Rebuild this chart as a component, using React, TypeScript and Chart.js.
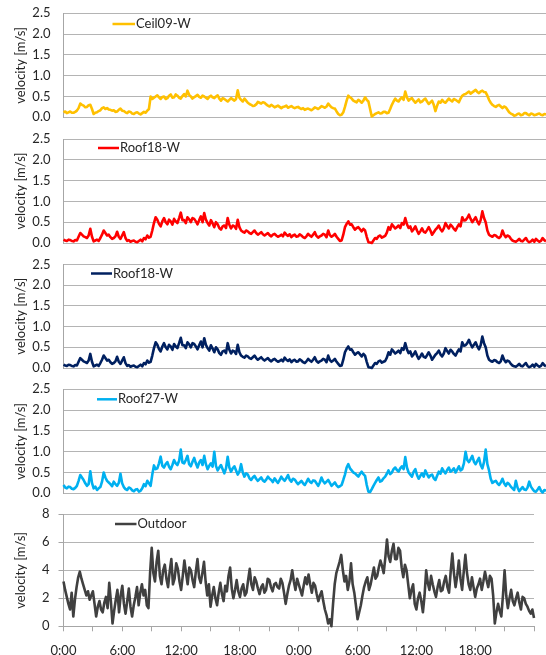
import React, { useEffect, useRef } from "react";
import { Chart, registerables } from "chart.js";

Chart.register(...registerables);

const STEP_HOURS = 1 / 6;

const ceil09W = [
  0.12, 0.14, 0.10, 0.12, 0.14, 0.11, 0.11, 0.13, 0.16, 0.22, 0.33, 0.30,
  0.28, 0.24, 0.25, 0.29, 0.30, 0.20, 0.08, 0.11, 0.12, 0.15, 0.17, 0.22,
  0.24, 0.20, 0.22, 0.19, 0.18, 0.16, 0.17, 0.13, 0.14, 0.18, 0.21, 0.16,
  0.15, 0.12, 0.10, 0.14, 0.13, 0.09, 0.08, 0.11, 0.12, 0.09, 0.07, 0.10,
  0.13, 0.11, 0.16, 0.20, 0.50, 0.44, 0.47, 0.50, 0.53, 0.48, 0.44, 0.49,
  0.50, 0.44, 0.46, 0.52, 0.55, 0.47, 0.48, 0.55, 0.52, 0.47, 0.45, 0.51,
  0.56, 0.50, 0.64, 0.54, 0.50, 0.45, 0.48, 0.51, 0.54, 0.49, 0.47, 0.52,
  0.50, 0.47, 0.44, 0.49, 0.52, 0.48, 0.46, 0.50, 0.53, 0.45, 0.40, 0.46,
  0.44, 0.41, 0.38, 0.42, 0.46, 0.43, 0.40, 0.44, 0.65, 0.47, 0.42, 0.38,
  0.45, 0.40, 0.35, 0.32, 0.30, 0.27, 0.28, 0.31, 0.37, 0.35, 0.33, 0.36,
  0.35, 0.31, 0.28, 0.26, 0.30, 0.27, 0.24, 0.26, 0.28, 0.25, 0.22, 0.25,
  0.26, 0.28, 0.23, 0.25, 0.27, 0.24, 0.22, 0.24, 0.25, 0.22, 0.20, 0.22,
  0.18, 0.20, 0.21, 0.19, 0.17, 0.20, 0.24, 0.22, 0.20, 0.23, 0.27, 0.25,
  0.23, 0.26, 0.33, 0.28, 0.24, 0.22, 0.21, 0.14, 0.08, 0.05, 0.06, 0.12,
  0.25, 0.40, 0.52, 0.48, 0.45, 0.40, 0.38, 0.36, 0.42, 0.39, 0.35, 0.40,
  0.48, 0.42, 0.38, 0.20, 0.02, 0.05, 0.08, 0.10, 0.12, 0.09, 0.10, 0.13,
  0.13, 0.10, 0.11, 0.20, 0.30, 0.38, 0.45, 0.40, 0.38, 0.44, 0.48, 0.42,
  0.62, 0.48, 0.40, 0.44, 0.46, 0.40, 0.35, 0.39, 0.43, 0.36, 0.38, 0.42,
  0.45, 0.38, 0.32, 0.36, 0.40, 0.30, 0.15, 0.28, 0.38, 0.35, 0.42, 0.37,
  0.35, 0.40, 0.45, 0.41, 0.38, 0.44, 0.42, 0.39, 0.36, 0.45, 0.52, 0.55,
  0.56, 0.59, 0.62, 0.57, 0.60, 0.63, 0.66, 0.61, 0.58, 0.62, 0.64, 0.61,
  0.60, 0.52, 0.42, 0.35, 0.30, 0.27, 0.25, 0.28, 0.30, 0.26, 0.22, 0.26,
  0.24, 0.18, 0.12, 0.09, 0.07, 0.04, 0.05, 0.08, 0.09, 0.05, 0.06, 0.10,
  0.10, 0.07, 0.05, 0.09, 0.08, 0.05, 0.06, 0.08, 0.09, 0.06, 0.05, 0.08,
  0.07,
];

const roof18W = [
  0.08, 0.06, 0.05, 0.08, 0.07, 0.05, 0.04, 0.07, 0.06, 0.15, 0.24, 0.20,
  0.16, 0.14, 0.12, 0.18, 0.34, 0.15, 0.04, 0.06, 0.08, 0.05, 0.12, 0.20,
  0.30, 0.24, 0.18, 0.20, 0.14, 0.10, 0.12, 0.16, 0.27, 0.15, 0.10, 0.18,
  0.26, 0.12, 0.05, 0.07, 0.03, 0.05, 0.06, 0.03, 0.02, 0.05, 0.08, 0.04,
  0.12, 0.09, 0.18, 0.13, 0.15, 0.30, 0.48, 0.62, 0.56, 0.46, 0.40, 0.52,
  0.60, 0.50, 0.45, 0.56, 0.52, 0.44, 0.58, 0.52, 0.48, 0.60, 0.73, 0.55,
  0.55, 0.48, 0.62, 0.57, 0.50, 0.60, 0.58, 0.52, 0.45, 0.55, 0.64, 0.50,
  0.72, 0.56, 0.48, 0.42, 0.55, 0.47, 0.38, 0.50, 0.45, 0.36, 0.32, 0.40,
  0.42, 0.36, 0.60, 0.44, 0.35, 0.42, 0.40, 0.34, 0.56, 0.38, 0.30, 0.27,
  0.25, 0.30, 0.28, 0.24, 0.22, 0.26, 0.30, 0.24, 0.20, 0.23, 0.26, 0.21,
  0.18, 0.21, 0.24, 0.19, 0.16, 0.20, 0.22, 0.18, 0.15, 0.17, 0.20, 0.16,
  0.25, 0.20, 0.17, 0.21, 0.14, 0.18, 0.20, 0.15, 0.16, 0.21, 0.18, 0.14,
  0.12, 0.16, 0.22, 0.18, 0.15, 0.20, 0.26, 0.17, 0.13, 0.16, 0.18, 0.22,
  0.20, 0.14, 0.30, 0.19, 0.15, 0.18, 0.22, 0.15, 0.10, 0.05, 0.06, 0.20,
  0.38, 0.46, 0.52, 0.44, 0.45, 0.38, 0.32, 0.36, 0.38, 0.33, 0.28, 0.34,
  0.30, 0.15, 0.02, 0.01, 0.00, 0.06, 0.12, 0.10, 0.16, 0.18, 0.13, 0.15,
  0.17, 0.25, 0.38, 0.32, 0.45, 0.40, 0.35, 0.38, 0.42, 0.36, 0.48, 0.44,
  0.60, 0.45, 0.36, 0.40, 0.28, 0.33, 0.40, 0.30, 0.22, 0.28, 0.35, 0.27,
  0.25, 0.31, 0.38, 0.30, 0.20, 0.26, 0.32, 0.36, 0.42, 0.33, 0.28, 0.35,
  0.48, 0.41, 0.35, 0.44, 0.40, 0.34, 0.30, 0.38, 0.45, 0.40, 0.62, 0.54,
  0.55, 0.60, 0.68, 0.58, 0.50, 0.56, 0.62, 0.52, 0.45, 0.55, 0.76, 0.60,
  0.50, 0.30, 0.20, 0.17, 0.15, 0.19, 0.18, 0.14, 0.12, 0.16, 0.30, 0.20,
  0.14, 0.18, 0.16, 0.10, 0.06, 0.04, 0.03, 0.06, 0.10, 0.05, 0.04, 0.08,
  0.12, 0.05, 0.02, 0.04, 0.08, 0.03, 0.10, 0.06, 0.03, 0.05, 0.12, 0.07,
  0.04,
];

const roof27W = [
  0.20, 0.14, 0.12, 0.16, 0.15, 0.11, 0.10, 0.13, 0.18, 0.30, 0.44, 0.38,
  0.32, 0.24, 0.18, 0.22, 0.53, 0.25, 0.12, 0.16, 0.08, 0.12, 0.15, 0.28,
  0.50, 0.38, 0.30, 0.26, 0.22, 0.17, 0.28, 0.22, 0.18, 0.25, 0.47, 0.24,
  0.15, 0.10, 0.08, 0.14, 0.12, 0.07, 0.05, 0.09, 0.10, 0.04, 0.06, 0.12,
  0.22, 0.17, 0.30, 0.24, 0.18, 0.45, 0.67, 0.58, 0.60, 0.72, 0.88, 0.66,
  0.62, 0.70, 0.75, 0.64, 0.58, 0.68, 0.80, 0.72, 0.68, 0.78, 1.05, 0.74,
  0.72, 0.80, 0.90, 0.70, 0.65, 0.76, 0.85, 0.72, 0.62, 0.74, 0.80, 0.68,
  0.90, 0.70, 0.58, 0.66, 0.72, 0.64, 1.00, 0.66, 0.55, 0.62, 0.68, 0.58,
  0.48, 0.60, 0.88, 0.62, 0.52, 0.60, 0.65, 0.55, 0.45, 0.52, 0.70, 0.50,
  0.40, 0.48, 0.45, 0.36, 0.32, 0.38, 0.42, 0.35, 0.30, 0.34, 0.38, 0.31,
  0.28, 0.33, 0.40, 0.35, 0.32, 0.27, 0.36, 0.30, 0.25, 0.32, 0.40, 0.34,
  0.30, 0.36, 0.44, 0.33, 0.28, 0.35, 0.33, 0.27, 0.22, 0.26, 0.30, 0.24,
  0.20, 0.27, 0.35, 0.28, 0.25, 0.31, 0.30, 0.24, 0.18, 0.26, 0.38, 0.29,
  0.24, 0.28, 0.32, 0.25, 0.18, 0.22, 0.26, 0.19, 0.15, 0.17, 0.20, 0.32,
  0.45, 0.62, 0.70, 0.60, 0.55, 0.50, 0.48, 0.44, 0.40, 0.47, 0.52, 0.46,
  0.42, 0.20, 0.04, 0.03, 0.10, 0.18, 0.25, 0.32, 0.38, 0.28, 0.30, 0.36,
  0.40, 0.47, 0.55, 0.46, 0.50, 0.58, 0.62, 0.56, 0.52, 0.60, 0.65, 0.58,
  0.87, 0.62, 0.50, 0.45, 0.40, 0.52, 0.58, 0.44, 0.35, 0.42, 0.48, 0.40,
  0.55, 0.46, 0.38, 0.43, 0.45, 0.36, 0.32, 0.42, 0.52, 0.47, 0.60, 0.53,
  0.48, 0.56, 0.62, 0.52, 0.55, 0.60, 0.50, 0.57, 0.65, 0.55, 0.58, 0.72,
  1.00, 0.80, 0.75, 0.82, 0.90, 0.76, 0.70, 0.78, 0.85, 0.68, 0.60, 0.75,
  1.05, 0.70, 0.55, 0.35, 0.25, 0.28, 0.30, 0.24, 0.20, 0.26, 0.35, 0.24,
  0.18, 0.25, 0.22, 0.16, 0.12, 0.08, 0.30, 0.14, 0.05, 0.10, 0.15, 0.09,
  0.08, 0.14, 0.28, 0.16, 0.10, 0.05, 0.04, 0.09, 0.15, 0.06, 0.02, 0.08,
  0.06,
];

const outdoor = [
  3.2, 2.6, 2.1, 1.6, 1.2, 2.4, 0.7, 1.9, 2.8, 3.5, 3.9, 3.4,
  3.0, 2.6, 2.2, 2.5, 1.9, 2.2, 2.5, 1.6, 0.7, 1.4, 1.8, 1.2,
  1.0, 1.7, 2.1, 1.3, 3.1, 1.8, 0.2, 1.1, 1.9, 2.6, 1.0, 2.2,
  2.9, 1.6, 0.9, 1.8, 2.7, 1.4, 0.7, 1.5, 2.1, 2.8, 1.5, 2.4,
  3.0, 2.2, 2.6, 1.5, 1.3, 3.8, 5.6, 3.8, 3.2, 4.6, 5.4, 3.6,
  3.0, 4.0, 4.4, 3.4, 2.8, 3.9, 4.8, 3.0, 3.4, 4.5, 4.1, 3.2,
  2.6, 3.6, 4.7, 3.8, 3.0, 4.2, 4.0, 3.3, 2.8, 3.9, 4.8, 3.5,
  3.1, 3.8, 4.6, 3.2, 2.2, 3.0, 1.4, 2.2, 2.8, 2.0, 1.5, 2.4,
  3.1, 2.3, 1.8, 2.9, 2.5, 3.6, 4.2, 2.7, 2.0, 2.6, 3.3, 2.5,
  2.1, 2.7, 3.0, 2.2, 2.4, 3.3, 4.1, 3.0, 2.6, 3.5, 3.2, 2.7,
  2.3, 2.8, 3.0, 2.4, 2.6, 3.4, 3.3, 2.8, 2.5, 3.0, 3.1, 2.8,
  2.7, 3.4, 3.1, 2.4, 1.6, 2.3, 2.9, 3.3, 4.0, 3.2, 2.6, 3.4,
  3.0, 2.6, 2.2, 2.9, 3.5, 3.0, 3.7, 3.0, 2.4, 3.1, 2.9, 2.3,
  1.8, 2.2, 2.5, 1.8, 1.2, 0.8, 0.2, 0.5, 0.0, 1.6, 3.0, 3.8,
  4.2, 4.6, 5.1, 4.0, 3.2, 3.6, 2.6, 3.2, 4.5, 3.0, 2.4, 1.5,
  0.5, 1.0, 1.5, 2.2, 2.8, 3.2, 3.5, 2.6, 3.0, 3.6, 4.2, 3.4,
  3.6, 4.2, 4.7, 4.3, 3.8, 4.9, 6.2, 5.0, 4.6, 5.4, 5.9, 4.8,
  4.8, 5.6, 5.4, 4.2, 3.5, 4.4, 4.0, 3.0, 2.0, 2.6, 3.0, 1.6,
  1.2, 2.0, 2.4, 1.8, 1.0, 2.2, 4.0, 3.1, 2.6, 3.6, 3.0, 2.5,
  2.1, 2.8, 3.3, 2.5, 2.6, 3.2, 3.6, 2.8, 2.4, 3.9, 5.2, 3.8,
  2.8, 3.6, 4.7, 3.4, 2.6, 3.9, 5.1, 3.8, 3.0, 2.6, 3.5, 2.8,
  2.1, 2.7, 3.0, 3.4, 2.6, 3.2, 3.9, 3.3, 2.8, 3.6, 3.4, 2.2,
  0.2, 1.0, 1.6, 1.1, 0.7, 2.2, 4.0, 2.2, 1.3, 2.0, 2.6, 1.8,
  1.5, 2.0, 2.4, 1.7, 1.2, 2.1, 2.0, 1.6, 1.4, 1.1, 0.9, 1.2,
  0.6,
];

const timeTickLabels = ["0:00", "6:00", "12:00", "18:00", "0:00", "6:00", "12:00", "18:00"];
const seriesLabels = ["Ceil09-W", "Roof18-W", "Roof18-W", "Roof27-W", "Outdoor"];
const yAxisTitle = "velocity [m/s]";

const hours = ceil09W.map((_, i) => i * STEP_HOURS);

const FONT = "Lato";
const TEXT = "#262626";
const GRID = "#b4b4b4";
const AXIS = "#a6a6a6";

type PanelCfg = {
  label: string;
  values: number[];
  color: string;
  max: number;
  step: number;
  decimals: number;
  top: number;
  h: number;
  padTop: number;
  padBottom: number;
  legend: { x1: number; x2: number; dy: number };
  bottomAxis: boolean;
};

const panels: PanelCfg[] = [
  { label: seriesLabels[0], values: ceil09W, color: "#FFC000", max: 2.5, step: 0.5, decimals: 1, top: 0, h: 126, padTop: 13.3, padBottom: 8.7, legend: { x1: 49, x2: 71.5, dy: 10.7 }, bottomAxis: false },
  { label: seriesLabels[1], values: roof18W, color: "#FF0000", max: 2.5, step: 0.5, decimals: 1, top: 126, h: 126, padTop: 13, padBottom: 9, legend: { x1: 34.5, x2: 55.5, dy: 9 }, bottomAxis: false },
  { label: seriesLabels[2], values: roof18W, color: "#002060", max: 2.5, step: 0.5, decimals: 1, top: 252, h: 125, padTop: 12.5, padBottom: 9, legend: { x1: 27.5, x2: 48.5, dy: 9 }, bottomAxis: false },
  { label: seriesLabels[3], values: roof27W, color: "#00B0F0", max: 2.5, step: 0.5, decimals: 1, top: 377, h: 125, padTop: 12.3, padBottom: 8.7, legend: { x1: 33.5, x2: 53.5, dy: 10 }, bottomAxis: false },
  { label: seriesLabels[4], values: outdoor, color: "#404040", max: 8, step: 2, decimals: 0, top: 502, h: 153, padTop: 12.3, padBottom: 0, legend: { x1: 51.5, x2: 73, dy: 9.7 }, bottomAxis: true },
];

const inlineLegend = {
  id: "inlineLegend",
  afterDatasetsDraw(chart: any, _args: any, opts: any) {
    const { ctx, chartArea } = chart;
    const ds = chart.data.datasets[0];
    const y = chartArea.top + opts.dy;
    ctx.save();
    ctx.strokeStyle = ds.borderColor;
    ctx.lineWidth = 2.5;
    ctx.beginPath();
    ctx.moveTo(chartArea.left + opts.x1, y);
    ctx.lineTo(chartArea.left + opts.x2, y);
    ctx.stroke();
    ctx.fillStyle = TEXT;
    ctx.font = `13px ${FONT}`;
    ctx.textBaseline = "middle";
    ctx.textAlign = "left";
    ctx.fillText(ds.label, chartArea.left + opts.x2 + 1, y);
    ctx.restore();
  },
};

function Panel({ cfg }: { cfg: PanelCfg }) {
  const ref = useRef<HTMLCanvasElement>(null);
  useEffect(() => {
    if (!ref.current) return;
    const chart = new Chart(ref.current, {
      type: "line",
      data: {
        datasets: [
          {
            label: cfg.label,
            data: cfg.values.map((v, i) => ({ x: hours[i], y: v })),
            borderColor: cfg.color,
            backgroundColor: cfg.color,
            borderWidth: 2.6,
            pointRadius: 0,
            tension: 0,
            borderJoinStyle: "round",
            clip: 4,
          } as any,
        ],
      },
      options: {
        responsive: false,
        animation: false,
        devicePixelRatio: 1,
        layout: { padding: { top: cfg.padTop, bottom: cfg.padBottom, left: 0, right: 0 } },
        plugins: {
          legend: { display: false },
          tooltip: { enabled: false },
          inlineLegend: cfg.legend,
        } as any,
        scales: {
          x: cfg.bottomAxis
            ? {
                type: "linear",
                min: 0,
                max: 48,
                ticks: {
                  stepSize: 3,
                  autoSkip: false,
                  maxRotation: 0,
                  padding: 12,
                  color: TEXT,
                  font: { family: FONT, size: 13 },
                  callback: (v: any) => {
                    const n = Number(v);
                    return n % 6 === 0 ? timeTickLabels[n / 6] ?? "" : "";
                  },
                },
                grid: { drawOnChartArea: false, drawTicks: true, tickLength: 5, color: AXIS },
                border: { display: true, color: AXIS },
                afterFit: (s: any) => {
                  s.height = 28.7;
                },
              }
            : { type: "linear", min: 0, max: 48, display: false },
          y: {
            min: 0,
            max: cfg.max,
            ticks: {
              stepSize: cfg.step,
              padding: cfg.bottomAxis ? 9 : 13,
              color: TEXT,
              font: { family: FONT, size: 13 },
              callback: (v: any) => Number(v).toFixed(cfg.decimals),
            },
            grid: {
              color: GRID,
              lineWidth: 1,
              drawTicks: cfg.bottomAxis,
              tickLength: 5,
              tickColor: AXIS,
            },
            border: { display: true, color: AXIS, width: 1 },
            title: {
              display: true,
              text: yAxisTitle,
              color: TEXT,
              font: { family: FONT, size: 13 },
              padding: { top: 13, bottom: 0 },
            },
            afterFit: (s: any) => {
              s.width = 63.5;
              s.paddingTop = 0;
              s.paddingBottom = 0;
            },
          },
        } as any,
      },
      plugins: [inlineLegend as any],
    });
    return () => chart.destroy();
  }, [cfg]);
  return (
    <canvas
      ref={ref}
      width={546}
      height={cfg.h}
      style={{ position: "absolute", left: 0, top: cfg.top, width: 546, height: cfg.h }}
    />
  );
}

export default function App() {
  return (
    <div style={{ position: "absolute", left: 0, top: 0, width: 546, height: 655, background: "#ffffff", overflow: "hidden" }}>
      {panels.map((p, i) => (
        <Panel key={i} cfg={p} />
      ))}
    </div>
  );
}
